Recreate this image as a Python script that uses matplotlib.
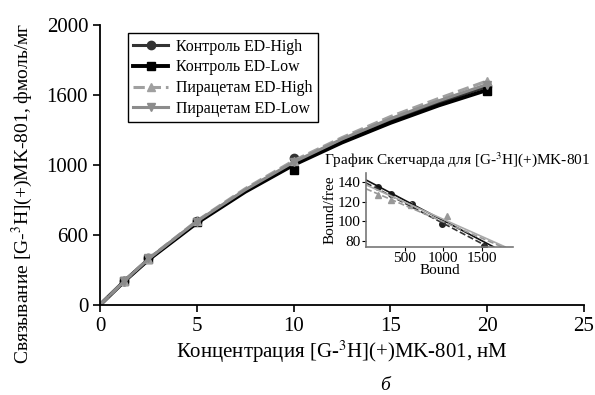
import numpy as np
import matplotlib
matplotlib.use("Agg")
from matplotlib import pyplot as plt

plt.rcParams['font.family'] = ['Liberation Serif', 'DejaVu Serif']
plt.rcParams['mathtext.fontset'] = 'stix'

# main plot: measured points
conc = [0, 1.25, 2.5, 5, 10, 20]
ctrl_high = [0, 172, 332, 598, 1050, 1560]
ctrl_low = [0, 170, 328, 590, 965, 1525]
pir_high = [0, 168, 330, 600, 1030, 1600]
pir_low = [0, 170, 332, 595, 1020, 1572]

# fitted curves
conc_fit = [0, 1.25, 2.5, 5, 7.5, 10, 12.5, 15, 17.5, 20]
ctrl_high_fit = [0, 170, 326, 592, 818, 1012, 1175, 1318, 1445, 1560]
ctrl_low_fit = [0, 168, 322, 585, 808, 1000, 1160, 1300, 1425, 1535]
pir_high_fit = [0, 170, 330, 600, 830, 1030, 1195, 1345, 1475, 1600]
pir_low_fit = [0, 170, 328, 596, 822, 1020, 1185, 1330, 1458, 1575]

yticks = [0, 500, 1000, 1500, 2000]
ytick_labels = ['0', '600', '1000', '1600', '2000']
xticks = [0, 5, 10, 15, 20, 25]

labels = ['Контроль ED-High', 'Контроль ED-Low', 'Пирацетам ED-High', 'Пирацетам ED-Low']

# Scatchard inset
sc_black_x = [150, 330, 590, 980, 1530]
sc_black_y = [135, 128, 118, 97, 75]
sc_gray_x = [150, 330, 580, 1050]
sc_gray_y = [127, 122, 117, 105]
line_x0 = [0, 0, 0, 0]
line_y0 = [142, 139, 137, 133]
line_x1 = [1650, 1580, 1800, 1760]
line_y1 = [74, 74, 74, 74]

fig = plt.figure(figsize=(5.95, 3.95), dpi=100)
ax = fig.add_axes([0.168, 0.228, 0.8135, 0.709])

styles = [
    dict(color='#333333', ls='-', lw=2.2, marker='o', ms=6),
    dict(color='black', ls='-', lw=2.8, marker='s', ms=6),
    dict(color='#a0a0a0', ls='--', lw=2.2, marker='^', ms=6),
    dict(color='#8c8c8c', ls='-', lw=2.2, marker='v', ms=6),
]
fits = [ctrl_high_fit, ctrl_low_fit, pir_high_fit, pir_low_fit]
pts = [ctrl_high, ctrl_low, pir_high, pir_low]
handles = []
for st, f, p, lab in zip(styles, fits, pts, labels):
    ax.plot(conc_fit, f, color=st['color'], ls=st['ls'], lw=st['lw'])
    ax.plot(conc[1:], p[1:], ls='none', marker=st['marker'], ms=st['ms'],
            color=st['color'])
    h, = ax.plot([], [], color=st['color'], ls=st['ls'], lw=st['lw'],
                 marker=st['marker'], ms=st['ms'], label=lab)
    handles.append(h)

ax.set_xlim(0, 25)
ax.set_ylim(0, 2000)
ax.set_xticks(xticks)
ax.set_yticks(yticks)
ax.set_yticklabels(ytick_labels)
ax.spines['top'].set_visible(False)
ax.spines['right'].set_visible(False)
for s in ['left', 'bottom']:
    ax.spines[s].set_linewidth(1.3)
ax.tick_params(direction='out', length=5, width=1.2, labelsize=15)
ax.set_xlabel('Концентрация [G-$^3$H](+)MK-801, нМ', fontsize=15, labelpad=2)
ax.set_ylabel('Связывание [G-$^3$H](+)MK-801, фмоль/мг', fontsize=14, labelpad=6)
ax.yaxis.set_label_coords(-0.135, 0.40)

leg = ax.legend(handles=handles, loc='upper left', bbox_to_anchor=(0.057, 0.971),
                fontsize=11.4, fancybox=False, edgecolor='black', framealpha=1,
                handlelength=2.2, borderpad=0.35, labelspacing=0.3,
                handletextpad=0.5, borderaxespad=0)
leg.get_frame().set_linewidth(1.0)

fig.text(0.647, 0.025, 'б', fontsize=14, style='italic', ha='center', va='center')

# inset
ins = fig.add_axes([0.615, 0.375, 0.247, 0.187])
ins.plot(sc_black_x, sc_black_y, 'o', color='#222222', ms=4)
ins.plot(sc_gray_x, sc_gray_y, '^', color='#999999', ms=4)
ins_styles = [('#111111', '-'), ('#333333', '--'), ('#aaaaaa', '-'), ('#999999', '--')]
for (c, ls), a, b, cc, d in zip(ins_styles, line_x0, line_y0, line_x1, line_y1):
    ins.plot([a, cc], [b, d], color=c, ls=ls, lw=1.2)
ins.set_xlim(0, 1900)
ins.set_ylim(74, 149)
ins.set_xticks([500, 1000, 1500])
ins.set_yticks([80, 100, 120, 140])
ins.spines['top'].set_visible(False)
ins.spines['right'].set_visible(False)
for s in ['left', 'bottom']:
    ins.spines[s].set_color('#777777')
    ins.spines[s].set_linewidth(1.2)
ins.tick_params(direction='out', length=3, labelsize=11, pad=1)
ins.set_xlabel('Bound', fontsize=11, labelpad=-1)
ins.set_ylabel('Bound/free', fontsize=11, labelpad=1)
ins.text(0.62, 1.06, 'График Скетчарда для [G-$^3$H](+)MK-801', fontsize=11,
         ha='center', va='bottom', transform=ins.transAxes)

fig.savefig('out.png', dpi=100)
